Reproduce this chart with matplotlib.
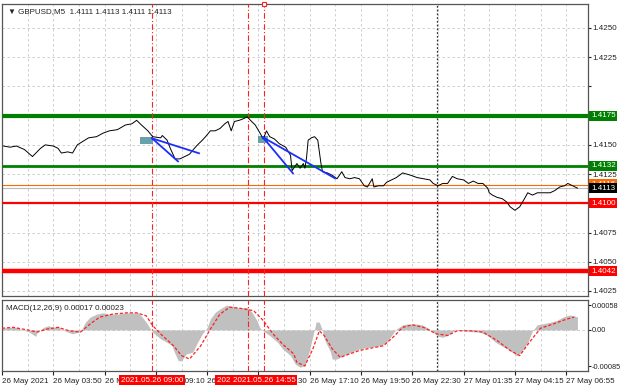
import matplotlib
matplotlib.use("Agg")
import matplotlib.pyplot as plt

plt.rcParams['font.family'] = ['Liberation Sans', 'DejaVu Sans']
plt.rcParams['font.size'] = 6

# M5 bars, counted from the first bar on screen
bars = [1, 5, 9, 14, 19, 24, 27, 32, 35, 37, 41, 44, 47, 54, 59, 63, 67, 72, 77, 81,
        84, 87, 91, 94, 99, 100, 103, 105, 108, 111, 114, 117, 120, 122, 125, 127, 130,
        133, 136, 139, 141, 143, 145, 148, 150, 153, 155, 158, 161, 163, 165, 167, 170,
        173, 177, 180, 181, 184, 186, 188, 189, 190, 191, 193, 195, 197, 199, 200, 203,
        206, 209, 212, 214, 217, 220, 223, 226, 228, 231, 232, 235, 238, 240, 243, 246,
        250, 255, 259, 263, 267, 269, 272, 275, 278, 281, 284, 288, 291, 294, 297, 300,
        303, 304, 306, 309, 312, 315, 317, 320, 323, 326, 328, 331, 334, 337, 342, 345,
        348, 351, 353, 356, 359]
close = [1.4149, 1.4148, 1.4149, 1.4146, 1.4140, 1.4147, 1.4150, 1.4149, 1.4147, 1.4143,
         1.4144, 1.4143, 1.4150, 1.4156, 1.4157, 1.4160, 1.4162, 1.4163, 1.4167, 1.4168,
         1.4171, 1.4167, 1.4162, 1.4157, 1.4156, 1.4158, 1.4154, 1.4147, 1.4138, 1.4138,
         1.4140, 1.4142, 1.4147, 1.4150, 1.4154, 1.4157, 1.4162, 1.4162, 1.4164, 1.4168,
         1.4170, 1.4162, 1.4170, 1.4171, 1.4172, 1.4174, 1.4171, 1.4167, 1.4160, 1.4155,
         1.4162, 1.4157, 1.4155, 1.4151, 1.4148, 1.4141, 1.4128, 1.4134, 1.4130, 1.4134,
         1.4130, 1.4139, 1.4154, 1.4156, 1.4157, 1.4154, 1.4134, 1.4127, 1.4126, 1.4124,
         1.4121, 1.4127, 1.4122, 1.4121, 1.4122, 1.4121, 1.4115, 1.4114, 1.4121, 1.4114,
         1.4115, 1.4115, 1.4118, 1.4120, 1.4122, 1.4126, 1.4124, 1.4122, 1.4121, 1.4120,
         1.4117, 1.4115, 1.4117, 1.4117, 1.4123, 1.4121, 1.4120, 1.4117, 1.4119, 1.4117,
         1.4117, 1.4113, 1.4109, 1.4107, 1.4105, 1.4104, 1.4101, 1.4097, 1.4094, 1.4097,
         1.4104, 1.4109, 1.4107, 1.4109, 1.4109, 1.4109, 1.4111, 1.4114, 1.4115, 1.4117,
         1.4115, 1.4113]

# MACD histogram and signal (units of 1e-5)
hist_bars = [0, 5, 9, 13, 17, 21, 22, 26, 29, 32, 35, 37, 41, 44, 49, 52, 55, 59, 63, 67,
             72, 77, 81, 85, 87, 90, 92, 94, 99, 103, 106, 108, 110, 112, 115, 119, 122,
             125, 128, 130, 133, 136, 140, 144, 148, 153, 156, 159, 161, 164, 167, 172,
             175, 180, 183, 186, 189, 191, 193, 195, 196, 198, 200, 201, 205, 206, 209,
             213, 218, 223, 230, 236, 240, 243, 246, 250, 253, 258, 262, 266, 269, 272,
             275, 278, 281, 284, 288, 293, 298, 303, 308, 313, 317, 321, 324, 328, 331,
             334, 337, 342, 346, 350, 354, 357, 359]
hist_vals = [4, 6, 6, 0, -5, -15, -5, 6, 10, 6, 9, 2, -5, -9, -4, 18, 30, 37, 40, 37,
             37, 40, 40, 40, 32, 18, 6, -5, -21, -29, -37, -56, -72, -72, -56, -52, -29,
             -9, 6, 26, 41, 49, 58, 55, 51, 53, 41, 22, 4, -5, -13, -29,
             -44, -60, -80, -87, -84, -60, -29, 2, 19, 18, -2, -21, -52, -68, -68,
             -60, -52, -44, -40, -37, -29, -13, 2, 12, 14, 14, 12, 4, -5, -15,
             -17, -13, -4, 1, -2, -4, -5, -13, -29, -40, -48, -60, -52, -29, -2,
             12, 14, 18, 22, 30, 35, 33, 30]
sig_bars = [0, 7, 16, 22, 28, 35, 42, 49, 55, 61, 69, 78, 84, 90, 94, 100, 107, 112, 117,
            124, 130, 136, 142, 148, 157, 163, 169, 175, 182, 184, 189, 194, 198, 201,
            206, 211, 217, 223, 231, 238, 244, 250, 256, 263, 271, 278, 284, 292, 300,
            309, 317, 323, 329, 336, 344, 352, 357]
sig_vals = [4, 6, 0, -5, 2, 6, -2, -5, 14, 30, 37, 40, 40, 33, 10, -13, -37, -60, -68,
            -37, 2, 37, 53, 51, 45, 22, -9, -33, -56, -76, -84, -44, -2, -13,
            -44, -64, -56, -48, -42, -37, -17, 6, 12, 6, -9, -13, -2, -2, -5,
            -25, -48, -60, -29, 4, 14, 25, 30]

# time axis labels, one every 32 bars
time_ticks = [0, 32, 64, 96, 128, 160, 192, 224, 256, 288, 320, 352]
time_labels = ['26 May 2021', '26 May 03:50', '26 May 06:30', '26 May 09:10',
               '26 May 11:50', '26 May 14:30', '26 May 17:10', '26 May 19:50',
               '26 May 22:30', '27 May 01:35', '27 May 04:15', '27 May 06:55']

# price scale
price_ticks = [1.4025, 1.4050, 1.4075, 1.4100, 1.4125, 1.4150, 1.4175, 1.4200, 1.4225, 1.4250]
price_tick_labels = ['1.4025', '1.4050', '1.4075', '', '1.4125', '1.4150', '', '', '1.4225', '1.4250']

# horizontal levels: price, colour, width
levels = [(1.4175, '#008000', 3.0), (1.4132, '#008000', 2.0),
          (1.4100, '#ff0000', 1.6), (1.4042, '#ff0000', 3.2)]
ask_line = 1.4116
bid_line = 1.4113

# vertical signal lines (bars) and their labels
vlines = [93.6, 153.5, 163.4]
vline_labels = ['2021.05.26 09:00', '2021.05.26 14:00', '2021.05.26 14:55']
day_sep = 271.4

# blue trend lines from the entry points
trend_lines = [((93.6, 1.41556), (109.8, 1.41359)), ((93.6, 1.41556), (122.9, 1.41428)),
               ((162.8, 1.41565), (181.5, 1.41257)), ((162.8, 1.41565), (207.7, 1.41214))]
entry_boxes = [(86.1, 94.2, 1.41505, 1.41570), (159.7, 165.9, 1.41515, 1.41578)]

XMAX = 365.6
grid_kw = dict(color='#c8c8c8', linestyle=(0, (3, 3)), linewidth=0.6)
FS = 5.8

fig = plt.figure(figsize=(6.2, 3.88), dpi=100)
W, H = 620, 388
ax = fig.add_axes([2 / W, 1 - 296 / H, 586 / W, 292 / H])
ax2 = fig.add_axes([2 / W, 1 - 371 / H, 586 / W, 71 / H])

for a in (ax, ax2):
    a.set_xlim(0, XMAX)
    for s in a.spines.values():
        s.set_color('#555555')
        s.set_linewidth(0.9)
    for g in range(0, 366, 16):
        a.axvline(g, zorder=0, **grid_kw)
    a.axvline(day_sep, color='#333333', linestyle=(0, (1.5, 1.5)), linewidth=0.9, zorder=1)
    for v in vlines:
        a.axvline(v, color='#ff2020', linestyle=(0, (5, 2, 1, 2)), linewidth=0.8, zorder=4)
    a.yaxis.tick_right()
    a.tick_params(axis='y', direction='out', length=2, pad=1.5, labelsize=FS, colors='#222222')

# main panel
ax.set_ylim(1.40207, 1.42705)
ax.set_yticks(price_ticks)
ax.set_yticklabels(price_tick_labels)
for p in price_ticks:
    ax.axhline(p, zorder=0, **grid_kw)
ax.set_xticks([])

ax.axhline(bid_line, color='#b8b8b8', linewidth=0.8, zorder=2)
ax.axhline(ask_line, color='#ff6a00', linewidth=0.8, zorder=2)
for p, c, lw in levels:
    ax.axhline(p, color=c, linewidth=lw, zorder=3)

ax.plot(bars, close, color='black', linewidth=0.7, zorder=5)

for x0, x1, y0, y1 in entry_boxes:
    ax.fill_between([x0, x1], y0, y1, color='#4f8fa0', alpha=0.85, zorder=4, linewidth=0)
for (x0, y0), (x1, y1) in trend_lines:
    ax.plot([x0, x1], [y0, y1], color='#1a2eff', linewidth=1.3, zorder=6)

ax.plot([vlines[2]], [1.42705], marker='s', ms=3, mfc='white', mec='#ff2020',
        mew=0.8, clip_on=False, zorder=7)

ytr = ax.get_yaxis_transform()
box_labels = [(1.4175, '#008000', 'white'), (1.4132, '#008000', 'white'),
              (ask_line, '#ff6a00', 'white'), (bid_line, 'black', 'white'),
              (1.4100, '#ff0000', 'white'), (1.4042, '#ff0000', 'white')]
for p, bg, fg in box_labels:
    ax.text(1.005, p, f'{p:.4f}', transform=ytr, ha='left', va='center', fontsize=FS,
            color=fg, clip_on=False, zorder=10,
            bbox=dict(boxstyle='square,pad=0.2', facecolor=bg, edgecolor='none'))

ax.text(0.010, 0.985, '\u25bc GBPUSD,M5  1.4111 1.4113 1.4111 1.4113', transform=ax.transAxes,
        ha='left', va='top', fontsize=FS, color='#222222',
        family=['Liberation Sans', 'DejaVu Sans'])

# MACD panel
ax2.set_ylim(-96, 70)
ax2.set_yticks([58, 0, -85])
ax2.set_yticklabels(['0.00058', '0.00', '-0.00085'])
ax2.tick_params(axis='y', labelsize=5.3, pad=1)
ax2.axhline(0, zorder=0, **grid_kw)
ax2.fill_between(hist_bars, 0, hist_vals, color='#c0c0c0', linewidth=0, zorder=2)
ax2.plot(sig_bars, sig_vals, color='#ff2020', linestyle=(0, (2.5, 1.5)), linewidth=0.9, zorder=3)
ax2.text(0.006, 0.93, 'MACD(12,26,9) 0.00017 0.00023', transform=ax2.transAxes,
         ha='left', va='top', fontsize=FS, color='#222222')

ax2.set_xticks(time_ticks)
ax2.set_xticklabels(time_labels, ha='left')
ax2.tick_params(axis='x', direction='out', length=3, pad=2, labelsize=FS, colors='#222222')

xtr = ax2.get_xaxis_transform()
for v, lab in zip(vlines, vline_labels):
    ax2.text(v, -0.13, lab, transform=xtr, ha='center', va='center', fontsize=FS,
             color='white', clip_on=False, zorder=10,
             bbox=dict(boxstyle='square,pad=0.2', facecolor='#ff0000', edgecolor='none'))

fig.savefig('out.png', dpi=100, facecolor='white')
